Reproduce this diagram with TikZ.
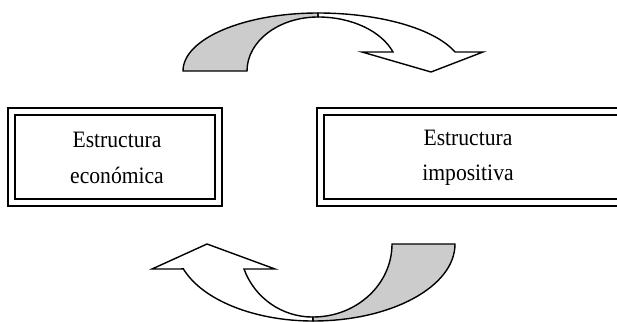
\documentclass[tikz,border=0pt]{standalone}
\usepackage{fontspec}
\setmainfont{Liberation Serif}
\definecolor{backgray}{RGB}{204,204,204}
\begin{document}
\begin{tikzpicture}[x=1pt,y=1pt,
  boxinner/.style={draw=black, line width=2pt, inner sep=0pt},
  boxouter/.style={draw=black, line width=1.2pt},
  boxlabel/.style={font=\fontsize{23.5}{35.5}\selectfont, align=center, inner sep=0pt, xscale=0.92, transform shape},
  arrowline/.style={draw=black, line width=1.4pt, line join=miter},
  backband/.style={arrowline, fill=backgray},
  frontband/.style={arrowline, fill=white}]
\useasboundingbox (0,0) rectangle (617,-321);
\clip (0,0) rectangle (617,-321);
% boxes
\node[boxinner, minimum width=200pt, minimum height=84pt] (econ) at (115,-157) {};
\draw[boxouter] ([shift={(-6,6)}]econ.north west) rectangle ([shift={(6,-6)}]econ.south east);
\node[boxinner, minimum width=316pt, minimum height=84pt] (impo) at (482,-157) {};
\draw[boxouter] ([shift={(-6,6)}]impo.north west) rectangle ([shift={(6,-6)}]impo.south east);
\node[boxlabel] (econtext) at (117,-158) {Estructura\\económica};
\node[boxlabel] (impotext) at (468,-158) {Estructura\\impositiva};
% top curved arrow
\path[backband] (183,-71) arc[start angle=180, end angle=90, x radius=135pt, y radius=58pt]
  -- (318,-17) arc[start angle=90, end angle=180, x radius=71pt, y radius=54pt] -- cycle;
\path[frontband] (318,-13) arc[start angle=90, end angle=19.1, x radius=145pt, y radius=58pt]
  -- (483,-52) -- (431,-72) -- (362,-52) -- (393,-52)
  arc[start angle=20.6, end angle=90, x radius=80pt, y radius=54pt] -- cycle;
% bottom curved arrow
\path[backband] (455,-244) arc[start angle=0, end angle=-90, x radius=142pt, y radius=77pt]
  -- (313,-317) arc[start angle=270, end angle=360, x radius=79pt, y radius=73pt] -- cycle;
\path[frontband] (313,-321) arc[start angle=270, end angle=198.9, x radius=137pt, y radius=77pt]
  -- (152,-269) -- (207,-244) -- (275,-269) -- (244,-269)
  arc[start angle=200, end angle=270, x radius=73pt, y radius=73pt] -- cycle;
\end{tikzpicture}
\end{document}
